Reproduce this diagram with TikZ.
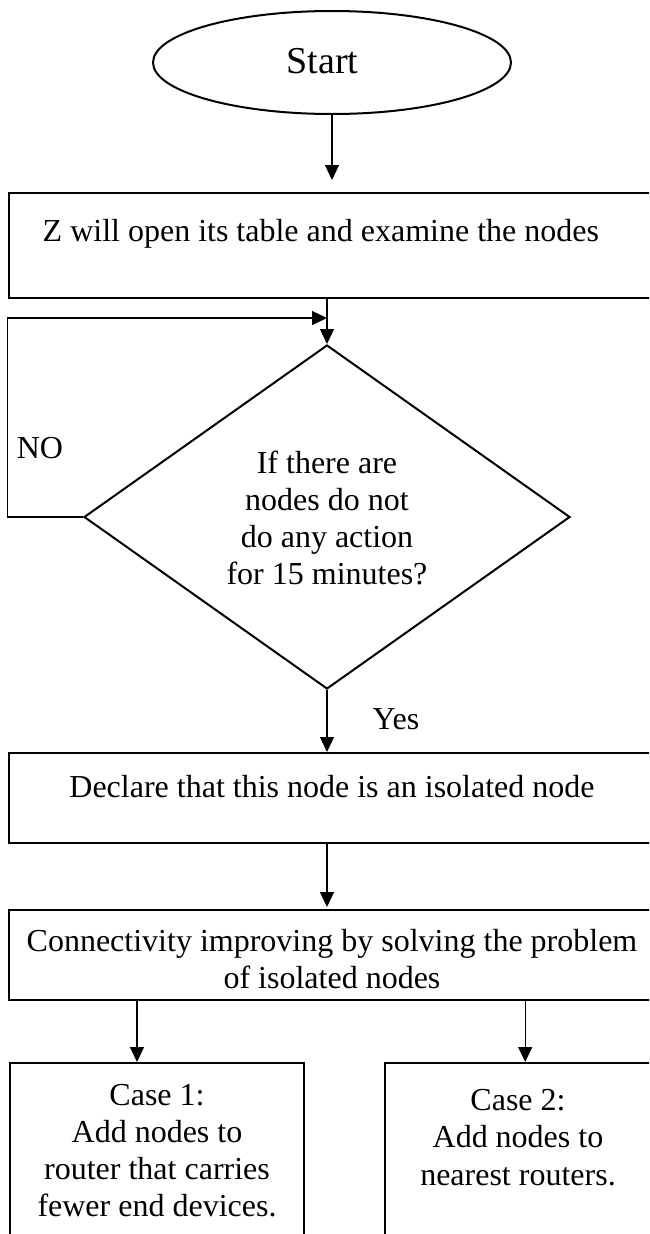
\documentclass[tikz,border=0pt]{standalone}
\usepackage{fontspec}
\setmainfont{Liberation Serif}
\usetikzlibrary{shapes.geometric,arrows.meta}
\newcommand{\mylines}[1]{\begin{tabular}[t]{@{}c@{}}#1\end{tabular}}
\begin{document}
\begin{tikzpicture}[x=1pt,y=-1pt,
  txt/.style={font=\fontsize{32}{37.5}\selectfont, inner sep=0pt, anchor=base},
  boxnode/.style={draw, line width=2.4pt, rectangle, inner sep=0pt, anchor=north west},
  conn/.style={line width=1.3pt, -{Triangle[length=15pt,width=14pt]}},
]
\useasboundingbox (0,0) rectangle (649,1234);
\clip (0,0) rectangle (649,1234);

% start
\node[draw, ellipse, line width=2pt, minimum width=358pt, minimum height=103pt, inner sep=0pt] (start) at (332,62.5) {};
\node[txt, font=\fontsize{38}{40}\selectfont] (starttxt) at (322.5,73) {Start};

% box 1
\node[boxnode, minimum width=654pt, minimum height=105pt] (b1) at (8,192) {};
\node[txt, anchor=base west] (t1) at (42.5,241) {Z will open its table and examine the nodes};

% decision
\node[draw, diamond, line width=2pt, minimum width=486pt, minimum height=344pt, inner sep=0pt] (d) at (327,517) {};
\node[txt, font=\fontsize{32}{37.3}\selectfont] (dt) at (327,473) {\mylines{If there are\\nodes do not\\do any action\\for 15 minutes?}};

% box 2
\node[boxnode, minimum width=654pt, minimum height=90pt] (b2) at (8,752) {};
\node[txt] (t2) at (332,797) {Declare that this node is an isolated node};

% box 3
\node[boxnode, minimum width=654pt, minimum height=90pt] (b3) at (8,909) {};
\node[txt] (t3) at (332,951) {\mylines{Connectivity improving by solving the problem\\of isolated nodes}};

% case boxes
\node[boxnode, minimum width=294pt, minimum height=200pt] (b4) at (9,1062) {};
\node[txt, font=\fontsize{32}{37.3}\selectfont] (t4) at (157,1105) {\mylines{Case 1:\\Add nodes to\\router that carries\\fewer end devices.}};
\node[boxnode, minimum width=280pt, minimum height=200pt] (b5) at (384,1062) {};
\node[txt, font=\fontsize{32}{37.7}\selectfont] (t5) at (518,1110) {\mylines{Case 2:\\Add nodes to\\nearest routers.}};

% labels
\node[txt] (no) at (40,458) {NO};
\node[txt] (yes) at (396,729) {Yes};

% connectors
\coordinate (a1) at (332,180);
\draw[conn] (start.south) -- (a1);
\draw[conn] (d.north |- b1.south) -- (d.north);
\coordinate (nl) at (7.5,318);
\coordinate (lp) at (327,318);
\draw[conn] (d.west) -| (nl) -- (lp);
\draw[conn] (d.south) -- (d.south |- b2.north);
\coordinate (a3) at (327,907);
\draw[conn] (d.south |- b2.south) -- (a3);
\coordinate (c4) at (137,1062);
\draw[conn] (c4 |- b3.south) -- (c4);
\draw[conn] (b5.north |- b3.south) -- (b5.north);
\end{tikzpicture}
\end{document}
